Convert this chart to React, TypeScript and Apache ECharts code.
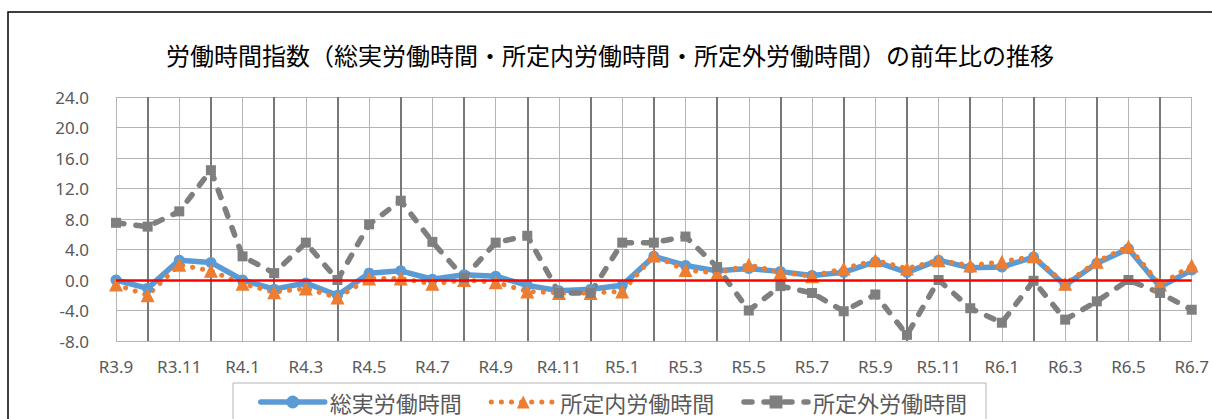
import { useEffect, useRef } from 'react';
import * as echarts from 'echarts';

const categories = [
  'R3.9', 'R3.10', 'R3.11', 'R3.12',
  'R4.1', 'R4.2', 'R4.3', 'R4.4', 'R4.5', 'R4.6', 'R4.7', 'R4.8', 'R4.9', 'R4.10', 'R4.11', 'R4.12',
  'R5.1', 'R5.2', 'R5.3', 'R5.4', 'R5.5', 'R5.6', 'R5.7', 'R5.8', 'R5.9', 'R5.10', 'R5.11', 'R5.12',
  'R6.1', 'R6.2', 'R6.3', 'R6.4', 'R6.5', 'R6.6', 'R6.7',
];

const totalHours = [
  0.0, -1.1, 2.6, 2.3,
  0.0, -1.2, -0.4, -2.0, 0.9, 1.2, 0.1, 0.7, 0.5, -0.7, -1.4, -1.2,
  -0.7, 3.1, 1.9, 1.2, 1.5, 1.1, 0.6, 1.0, 2.4, 1.0, 2.6, 1.6,
  1.7, 3.0, -0.7, 2.2, 4.1, -0.9, 1.3,
];

const scheduledHours = [
  -0.6, -2.0, 2.0, 1.2,
  -0.5, -1.6, -1.1, -2.3, 0.2, 0.2, -0.5, 0.0, -0.3, -1.5, -1.7, -1.7,
  -1.5, 3.2, 1.3, 0.9, 2.0, 1.0, 0.5, 1.5, 2.6, 1.5, 2.6, 1.9,
  2.4, 3.1, -0.5, 2.4, 4.4, -0.6, 1.9,
];

const overtimeHours = [
  7.5, 7.0, 9.0, 14.4,
  3.1, 0.9, 4.9, 0.0, 7.3, 10.4, 5.0, 0.3, 4.9, 5.8, -1.7, -1.7,
  4.9, 4.9, 5.7, 1.7, -4.0, -0.8, -1.7, -4.1, -1.9, -7.2, 0.0, -3.7,
  -5.6, -0.1, -5.2, -2.8, 0.0, -1.7, -3.9,
];

const seriesNames = ['総実労働時間', '所定内労働時間', '所定外労働時間'];
const titleText = '労働時間指数（総実労働時間・所定内労働時間・所定外労働時間）の前年比の推移';
const yMin = -8;
const yMax = 24;
const yStep = 4;
const referenceValue = 0;

export default function App() {
  const ref = useRef<HTMLDivElement>(null);

  useEffect(() => {
    const chart = echarts.init(ref.current!, null, { renderer: 'svg' });
    const labelColor = '#595959';
    const cjk = '"Noto Sans CJK JP", "Noto Sans", sans-serif';
    const latin = '"Noto Sans", "Open Sans", sans-serif';

    chart.setOption({
      animation: false,
      backgroundColor: '#ffffff',
      title: {
        text: titleText,
        left: 610,
        textAlign: 'center',
        top: 40,
        padding: 0,
        textStyle: {
          fontFamily: cjk,
          fontSize: 24,
          fontWeight: 'normal',
          color: '#000000',
          lineHeight: 28,
        },
      },
      graphic: [
        {
          type: 'rect',
          silent: true,
          shape: { x: 8, y: 12, width: 1400, height: 600 },
          style: { fill: 'none', stroke: '#000000', lineWidth: 1.5 },
        },
      ],
      legend: {
        data: seriesNames,
        left: 233,
        top: 383,
        padding: [8, 19, 8, 25],
        itemGap: 27,
        itemWidth: 64,
        itemHeight: 16,
        borderColor: '#b3b3b3',
        borderWidth: 1,
        lineStyle: { width: 'inherit', type: 'inherit', cap: 'round' },
        textStyle: { color: labelColor, fontSize: 22, fontFamily: cjk },
      },
      grid: { left: 116, right: 20, top: 97, bottom: 78 },
      xAxis: [
        {
          type: 'category',
          data: categories,
          boundaryGap: false,
          axisLine: { show: false },
          axisTick: { show: false },
          axisLabel: {
            interval: 1,
            color: labelColor,
            fontSize: 17,
            fontFamily: latin,
            margin: 17,
          },
          splitLine: {
            show: true,
            interval: 0,
            lineStyle: { color: '#b4b4b4', width: 1 },
          },
        },
        {
          type: 'category',
          data: categories,
          boundaryGap: false,
          position: 'bottom',
          axisLine: { show: false },
          axisTick: { show: false },
          axisLabel: { show: false },
          splitLine: {
            show: true,
            interval: (index: number) => index % 2 === 1,
            lineStyle: { color: '#787878', width: 2 },
          },
        },
      ],
      yAxis: {
        type: 'value',
        min: yMin,
        max: yMax,
        interval: yStep,
        axisLine: { show: false },
        axisTick: { show: false },
        axisLabel: {
          color: labelColor,
          fontSize: 17,
          fontFamily: latin,
          margin: 27,
          formatter: (v: number) => v.toFixed(1),
        },
        splitLine: { show: true, lineStyle: { color: '#b4b4b4', width: 1 } },
      },
      series: [
        {
          name: seriesNames[0],
          type: 'line',
          xAxisIndex: 0,
          data: totalHours,
          symbol: 'circle',
          symbolSize: 11,
          itemStyle: { color: '#5B9BD5' },
          lineStyle: { color: '#5B9BD5', width: 5.5, cap: 'round', join: 'round' },
          markLine: {
            silent: true,
            symbol: 'none',
            animation: false,
            label: { show: false },
            lineStyle: { color: '#FF0000', width: 2.5, type: 'solid' },
            data: [{ yAxis: referenceValue }],
          },
        },
        {
          name: seriesNames[1],
          type: 'line',
          xAxisIndex: 0,
          data: scheduledHours,
          symbol: 'triangle',
          symbolSize: 14,
          itemStyle: { color: '#ED7D31' },
          lineStyle: { color: '#ED7D31', width: 5, type: [0.1, 10], cap: 'round' },
        },
        {
          name: seriesNames[2],
          type: 'line',
          xAxisIndex: 0,
          data: overtimeHours,
          symbol: 'rect',
          symbolSize: 10,
          itemStyle: { color: '#7F7F7F' },
          lineStyle: { color: '#7F7F7F', width: 5.5, type: [8, 12], cap: 'round' },
        },
      ],
    });

    return () => chart.dispose();
  }, []);

  return (
    <div
      ref={ref}
      style={{ position: 'absolute', left: 0, top: 0, width: 1212, height: 419 }}
    />
  );
}
